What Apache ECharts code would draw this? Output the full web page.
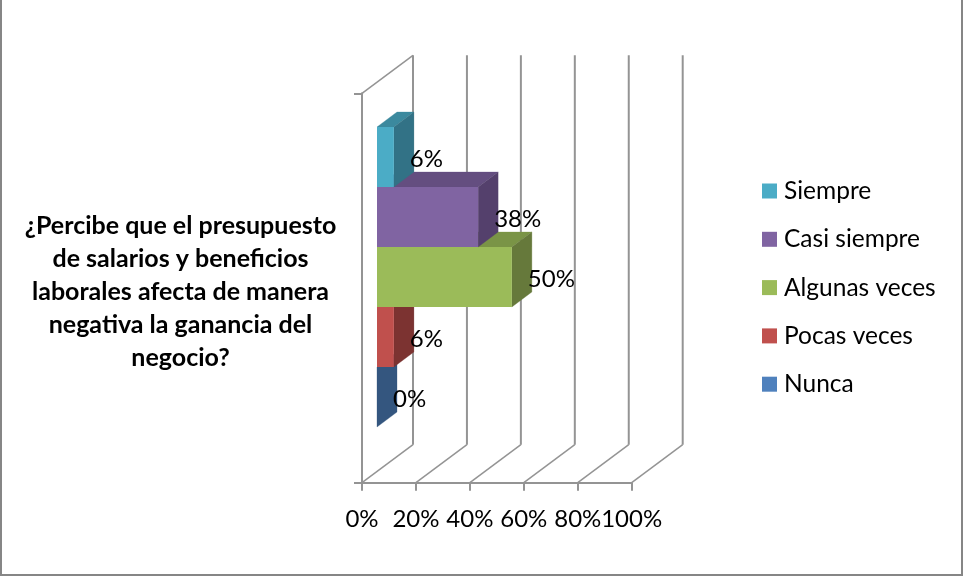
<!DOCTYPE html>
<html>
<head>
<meta charset="utf-8">
<style>html,body{margin:0;padding:0;background:#fff}#c{width:964px;height:576px}</style>
<script src="https://cdn.jsdelivr.net/npm/echarts@6/dist/echarts.min.js"></script>
</head>
<body>
<div id="c"></div>
<script>
const categories = ['¿Percibe que el presupuesto\nde salarios y beneficios\nlaborales afecta de manera\nnegativa la ganancia del\nnegocio?'];
const seriesNames = ['Siempre', 'Casi siempre', 'Algunas veces', 'Pocas veces', 'Nunca'];
const seriesValues = [6.25, 37.5, 50, 6.25, 0];
const xTicks = [0, 20, 40, 60, 80, 100];
const frontColors = ['#4BACC6', '#8064A2', '#9BBB59', '#C0504D', '#4F81BD'];
const topColors = ['#3B899E', '#644E80', '#7A9446', '#973F3C', '#3E6695'];
const sideColors = ['#327286', '#54406C', '#66793B', '#7C3331', '#34567F'];

const FONT = 'Lato, "Open Sans", sans-serif';
const WALL = { dx: 51, dy: -38 };
const BAR = { inset: 15, lift: 11, height: 60, dx: 20, dy: -15 };
const GRAY = '#949494';

function slotGeom(api, slot, value) {
  const c = api.coord([0, 0]);
  const band = api.size([0, 1])[1];
  const w = api.coord([value, 0])[0] - c[0];
  const x = c[0] + BAR.inset;
  const y = c[1] - BAR.lift - BAR.height * seriesNames.length / 2 + slot * BAR.height;
  return { x, y, w, band };
}

function poly(points, fill) {
  return { type: 'polygon', shape: { points }, style: { fill, stroke: fill, lineWidth: 0.3 } };
}

const barSeries = seriesNames.map((name, slot) => ({
  type: 'custom',
  name,
  coordinateSystem: 'cartesian2d',
  z: 10 + (seriesNames.length - slot),
  silent: true,
  clip: false,
  itemStyle: { color: frontColors[slot] },
  encode: { x: 0, y: 1 },
  data: [[seriesValues[slot], 0]],
  renderItem(params, api) {
    const g = slotGeom(api, slot, api.value(0));
    const h = BAR.height, dx = BAR.dx, dy = BAR.dy;
    const children = [
      poly([[g.x, g.y], [g.x + g.w, g.y], [g.x + g.w + dx, g.y + dy], [g.x + dx, g.y + dy]], topColors[slot]),
      poly([[g.x + g.w, g.y], [g.x + g.w + dx, g.y + dy], [g.x + g.w + dx, g.y + h + dy], [g.x + g.w, g.y + h]], sideColors[slot])
    ];
    if (g.w > 0) children.push({ type: 'rect', shape: { x: g.x, y: g.y, width: g.w, height: h }, style: { fill: frontColors[slot] } });
    return { type: 'group', children };
  }
}));

const labelSeries = {
  type: 'custom',
  coordinateSystem: 'cartesian2d',
  z: 30,
  silent: true,
  clip: false,
  encode: { x: 0, y: 1 },
  data: seriesValues.map((v, i) => [v, 0, i]),
  renderItem(params, api) {
    const slot = api.value(2), v = api.value(0);
    const g = slotGeom(api, slot, v);
    return {
      type: 'text',
      style: {
        text: Math.round(v) + '%',
        x: g.x + g.w + BAR.dx - 4,
        y: g.y + BAR.height / 2 + 2,
        fill: '#000',
        font: '24px ' + FONT,
        textAlign: 'left',
        textVerticalAlign: 'middle'
      }
    };
  }
};

const wallSeries = {
  type: 'custom',
  coordinateSystem: 'cartesian2d',
  z: 1,
  silent: true,
  clip: false,
  encode: { x: 0, y: 1 },
  data: xTicks.map(v => [v, 0]),
  renderItem(params, api) {
    const c = api.coord([api.value(0), 0]);
    const band = api.size([0, 1])[1];
    const bottom = c[1] + band / 2, top = c[1] - band / 2;
    const x = c[0];
    const children = [
      { type: 'line', shape: { x1: x + WALL.dx, y1: top + WALL.dy, x2: x + WALL.dx, y2: bottom + WALL.dy }, style: { stroke: GRAY, lineWidth: 2 } },
      { type: 'line', shape: { x1: x, y1: bottom, x2: x + WALL.dx, y2: bottom + WALL.dy }, style: { stroke: GRAY, lineWidth: 1.5 } }
    ];
    if (api.value(0) === 0) {
      children.push({ type: 'line', shape: { x1: x, y1: top, x2: x + WALL.dx, y2: top + WALL.dy }, style: { stroke: GRAY, lineWidth: 1.5 } });
    }
    return { type: 'group', children };
  }
};

const chart = echarts.init(document.getElementById('c'), null, { renderer: 'canvas' });
chart.setOption({
  animation: false,
  backgroundColor: '#fff',
  textStyle: { fontFamily: FONT },
  grid: { left: 362, top: 93.3, width: 269.7, height: 389.4, containLabel: false },
  xAxis: {
    type: 'value', min: 0, max: 100, interval: 20,
    axisLine: { show: true, lineStyle: { color: GRAY, width: 2 } },
    axisTick: { show: true, length: 8, lineStyle: { color: GRAY, width: 2 } },
    splitLine: { show: false },
    axisLabel: { formatter: '{value}%', color: '#000', fontSize: 24, fontFamily: FONT, margin: 25, hideOverlap: false, showMinLabel: true, showMaxLabel: true }
  },
  yAxis: {
    type: 'category', data: categories,
    axisLine: { show: true, lineStyle: { color: GRAY, width: 2 } },
    axisTick: { show: true, length: 8, lineStyle: { color: GRAY, width: 2 } },
    splitLine: { show: false },
    axisLabel: {
      align: 'center', margin: 181.5,
      formatter: v => '{s| }\n' + v.split('\n').map(l => '{t|' + l + '}').join('\n'),
      rich: {
        s: { fontSize: 1, lineHeight: 8, height: 8 },
        t: { color: '#000', fontSize: 25, fontWeight: 'bold', fontFamily: FONT, lineHeight: 33 }
      }
    }
  },
  legend: {
    data: seriesNames,
    orient: 'vertical',
    left: 757,
    top: 173.5,
    itemWidth: 15,
    itemHeight: 15,
    itemGap: 23.3,
    selectedMode: false,
    icon: 'rect',
    textStyle: { color: '#000', fontSize: 24.5, fontFamily: FONT, padding: [0, 0, 0, 2] }
  },
  graphic: [{
    type: 'rect', silent: true,
    shape: { x: 1, y: -10, width: 961, height: 585 },
    style: { fill: 'none', stroke: '#868686', lineWidth: 2 }
  }],
  series: [wallSeries, ...barSeries, labelSeries]
});
</script>
</body>
</html>
